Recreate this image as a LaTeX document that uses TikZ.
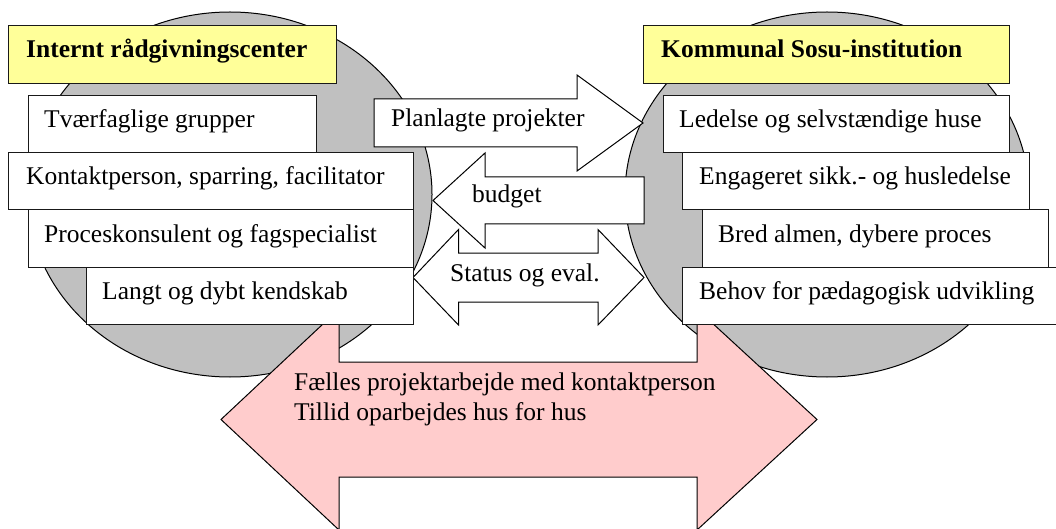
\documentclass[tikz,border=0pt]{standalone}
\usepackage{fontspec}
\setmainfont{Liberation Serif}
\definecolor{discgray}{HTML}{C0C0C0}
\definecolor{titleyellow}{HTML}{FFFF99}
\definecolor{bandpink}{HTML}{FFCCCC}
\begin{document}
\begin{tikzpicture}[x=1pt,y=-1pt,
  every node/.style={font=\fontsize{25.5}{30}\selectfont},
  disc/.style={draw=black, line width=1pt, fill=discgray},
  blockarrow/.style={draw=black, line width=1pt, fill=white, line join=miter},
  bigarrow/.style={draw=black, line width=1pt, fill=bandpink, line join=miter},
  boxstyle/.style={draw=black!90, line width=1.2pt, fill=white, inner sep=0pt,
    anchor=north west},
  titlebox/.style={boxstyle, fill=titleyellow},
  txt/.style={anchor=base west, inner sep=0pt},
  bold/.style={font=\fontsize{25.5}{30}\selectfont\bfseries}]
\useasboundingbox (0,0) rectangle (1056,529);
\clip (0,0) rectangle (1056,529);

% the two organisations as grey discs
\draw[disc] (230,194.5) ellipse [x radius=202, y radius=182.5];
\draw[disc] (827,194.5) ellipse [x radius=202, y radius=182.5];

% wide two-way arrow for the joint work
\draw[bigarrow] (221,419.5) -- (339,309) -- (339,362) -- (697,362) -- (697,309)
  -- (817,419.5) -- (697,530) -- (697,477) -- (339,477) -- (339,530) -- cycle;
\node[txt] (joint1) at (294,390) {Fælles projektarbejde med kontaktperson};
\node[txt] (joint2) at (294,420) {Tillid oparbejdes hus for hus};

% exchanges between the two sides
\draw[blockarrow] (374,99) -- (577,99) -- (577,75) -- (643,123) -- (577,171)
  -- (577,147) -- (374,147) -- cycle;
\node[txt] (plan) at (391,127) {Planlagte projekter};

\draw[blockarrow] (644,177) -- (485,177) -- (485,153) -- (433,200.5) -- (485,248)
  -- (485,224) -- (644,224) -- cycle;
\node[txt] (budget) at (472,203) {budget};

\draw[blockarrow] (413,277.5) -- (458.5,229.5) -- (458.5,253) -- (598,253)
  -- (598,229.5) -- (644,277.5) -- (598,325) -- (598,302) -- (458.5,302)
  -- (458.5,325) -- cycle;
\node[txt] (status) at (450,281) {Status og eval.};

% left side
\node[titlebox, minimum width=328pt, minimum height=58pt] (titleL) at (8,25) {};
\node[txt, bold] (titleLt) at ([shift={(18,33)}]titleL.north west) {Internt rådgivningscenter};
\node[boxstyle, minimum width=288pt, minimum height=57pt] (l1) at (28,95) {};
\node[txt] (l1t) at ([shift={(16,33)}]l1.north west) {Tværfaglige grupper};
\node[boxstyle, minimum width=405pt, minimum height=57pt] (l2) at (8,152) {};
\node[txt] (l2t) at ([shift={(18,33)}]l2.north west) {Kontaktperson, sparring, facilitator};
\node[boxstyle, minimum width=385pt, minimum height=58pt] (l3) at (28,209) {};
\node[txt] (l3t) at ([shift={(16,33)}]l3.north west) {Proceskonsulent og fagspecialist};
\node[boxstyle, minimum width=327pt, minimum height=57pt] (l4) at (86,267) {};
\node[txt] (l4t) at ([shift={(16,32)}]l4.north west) {Langt og dybt kendskab};

% right side
\node[titlebox, minimum width=366pt, minimum height=58pt] (titleR) at (643,25) {};
\node[txt, bold] (titleRt) at ([shift={(18,33)}]titleR.north west) {Kommunal Sosu-institution};
\node[boxstyle, minimum width=346pt, minimum height=57pt] (r1) at (663,95) {};
\node[txt] (r1t) at ([shift={(16,33)}]r1.north west) {Ledelse og selvstændige huse};
\node[boxstyle, minimum width=347pt, minimum height=57pt] (r2) at (682,152) {};
\node[txt] (r2t) at ([shift={(17,33)}]r2.north west) {Engageret sikk.- og husledelse};
\node[boxstyle, minimum width=346pt, minimum height=58pt] (r3) at (702,209) {};
\node[txt] (r3t) at ([shift={(16,33)}]r3.north west) {Bred almen, dybere proces};
\node[boxstyle, minimum width=380pt, minimum height=57pt] (r4) at (682,267) {};
\node[txt] (r4t) at ([shift={(17,32)}]r4.north west) {Behov for pædagogisk udvikling};
\end{tikzpicture}
\end{document}
